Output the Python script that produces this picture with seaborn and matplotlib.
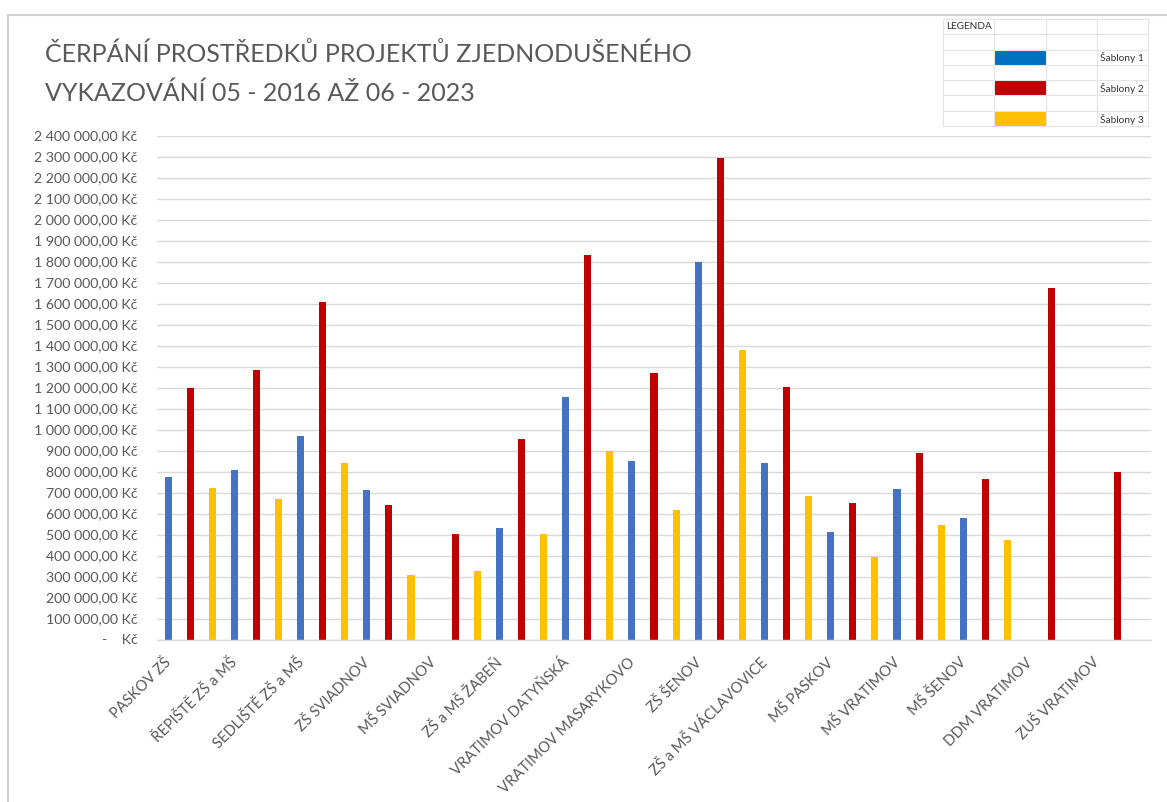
import numpy as np
import pandas as pd
import matplotlib
matplotlib.use("Agg")
import matplotlib.pyplot as plt
import matplotlib.transforms as mtransforms
from matplotlib.patches import Rectangle
from matplotlib.lines import Line2D
from matplotlib.ticker import FuncFormatter, MultipleLocator
import seaborn as sns

# data
categories = ["PASKOV ZŠ", "ŘEPIŠTĚ ZŠ a MŠ", "SEDLIŠTĚ ZŠ a MŠ", "ZŠ SVIADNOV",
              "MŠ SVIADNOV", "ZŠ a MŠ ŽABEŇ", "VRATIMOV DATYŇSKÁ", "VRATIMOV MASARYKOVO",
              "ZŠ ŠENOV", "ZŠ a MŠ VÁCLAVOVICE", "MŠ PASKOV", "MŠ VRATIMOV",
              "MŠ ŠENOV", "DDM VRATIMOV", "ZUŠ VRATIMOV"]
series = ["Šablony 1", "Šablony 2", "Šablony 3"]
sablony_1 = [775000, 806000, 970000, 710000, np.nan, 533000, 1156000, 851000,
             1796000, 839000, 510000, 717000, 579000, np.nan, np.nan]
sablony_2 = [1200000, 1281000, 1606000, 640000, 502000, 957000, 1833000, 1270000,
             2293000, 1204000, 651000, 889000, 762000, 1672000, 799000]
sablony_3 = [721000, 668000, 841000, 305000, 324000, 502000, 898000, 617000,
             1378000, 685000, 392000, 543000, 476000, np.nan, np.nan]

bar_colors = ["#4472C4", "#C00000", "#FFC000"]
legend_colors = ["#0070C0", "#C00000", "#FFC000"]
TEXT = "#595959"
GRID = "#D9D9D9"

df = pd.DataFrame({"Škola": categories, series[0]: sablony_1,
                   series[1]: sablony_2, series[2]: sablony_3})
df = df.melt(id_vars="Škola", var_name="Série", value_name="Částka").dropna()

sns.set_theme(style="white")
plt.rcParams["font.family"] = ["Lato", "DejaVu Sans"]

W, H = 1167, 802
fig = plt.figure(figsize=(W / 100, H / 100), dpi=100)
ax = fig.add_axes([157 / W, 1 - 639.5 / H, (1151 - 157) / W, (639.5 - 135.5) / H])

sns.barplot(data=df, x="Škola", y="Částka", hue="Série", order=categories,
            hue_order=series, palette=bar_colors, saturation=1, width=1.0, gap=0.68,
            linewidth=0, errorbar=None, legend=False, ax=ax)

ax.set_ylim(0, 2400000)
ax.set_xlim(-0.5, len(categories) - 0.5)
ax.yaxis.set_major_locator(MultipleLocator(100000))


def kc(v, pos):
    if v == 0:
        return "-    Kč"
    return f"{v:,.2f}".replace(",", " ").replace(".", ",") + " Kč"


ax.yaxis.set_major_formatter(FuncFormatter(kc))
ax.grid(axis="y", color=GRID, linewidth=1.0)
ax.set_axisbelow(True)
for s in ["left", "right", "top"]:
    ax.spines[s].set_visible(False)
ax.spines["bottom"].set_color(GRID)
ax.spines["bottom"].set_linewidth(1.0)
ax.set_xlabel("")
ax.set_ylabel("")
ax.tick_params(axis="y", length=0, pad=14, labelsize=10.2, labelcolor=TEXT)
ax.tick_params(axis="x", length=0, pad=0, labelsize=10.6, labelcolor=TEXT)
offset = mtransforms.ScaledTranslation(-21 / 100, -21 / 100, fig.dpi_scale_trans)
for lab in ax.get_xticklabels():
    lab.set_rotation(45)
    lab.set_ha("right")
    lab.set_va("center")
    lab.set_rotation_mode("anchor")
    lab.set_transform(lab.get_transform() + offset)

fig.text(45 / W, 1 - 62 / H, "ČERPÁNÍ PROSTŘEDKŮ PROJEKTŮ ZJEDNODUŠENÉHO",
         fontsize=18, color=TEXT, va="baseline")
fig.text(45 / W, 1 - 101 / H, "VYKAZOVÁNÍ 05 - 2016 AŽ 06 - 2023",
         fontsize=18, color=TEXT, va="baseline")

# frame lines of the screenshot
fig.add_artist(Line2D([8 / W, 8 / W], [0, 1 - 15 / H], transform=fig.transFigure,
                      color="#D0D0D0", linewidth=1.5))
fig.add_artist(Line2D([8 / W, 1], [1 - 15 / H, 1 - 15 / H], transform=fig.transFigure,
                      color="#D0D0D0", linewidth=1.5))

# table-like legend
lx0, lx1, ly0, ly1 = 943.3, 1147.7, 19, 126
lax = fig.add_axes([lx0 / W, 1 - ly1 / H, (lx1 - lx0) / W, (ly1 - ly0) / H])
lax.set_xlim(0, 4)
lax.set_ylim(7, 0)
lax.axis("off")
for r in range(8):
    lax.plot([0, 4], [r, r], color="#E4E4E4", linewidth=0.8, clip_on=False)
for c in range(5):
    lax.plot([c, c], [0, 7], color="#E4E4E4", linewidth=0.8, clip_on=False)
lax.text(0.06, 0.5, "LEGENDA", fontsize=7.2, color="#333333", va="center", ha="left")
for i, (name, col) in enumerate(zip(series, legend_colors)):
    row = 2 + 2 * i
    lax.add_patch(Rectangle((1, row), 1, 1, color=col, linewidth=0))
    lax.text(3.06, row + 0.55, name, fontsize=7.3, color="#333333", va="center", ha="left")

fig.savefig("out.png", dpi=100, facecolor="white")
